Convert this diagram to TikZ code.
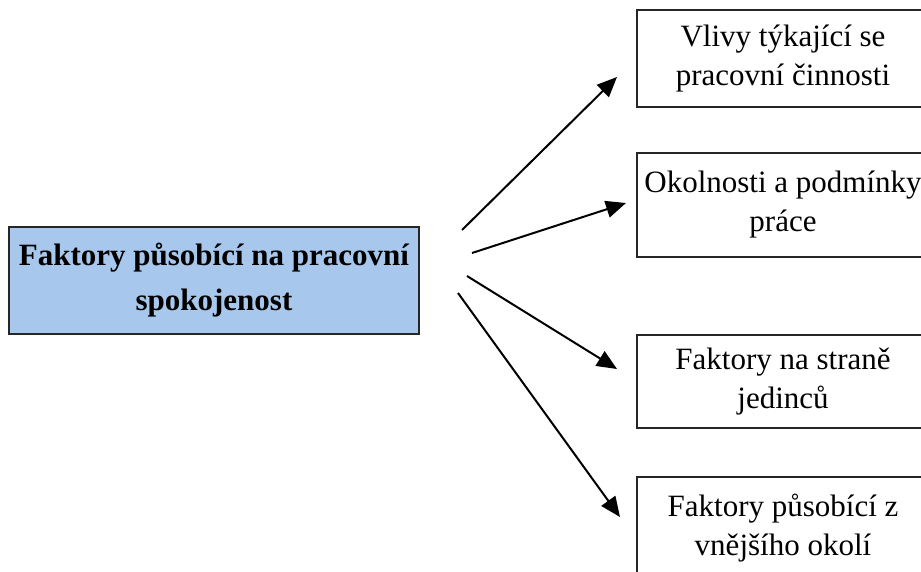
\documentclass[tikz,border=0pt]{standalone}
\usepackage{fontspec}
\setmainfont{Liberation Serif}
\usetikzlibrary{arrows.meta}
\definecolor{boxblue}{RGB}{167,200,236}
\begin{document}
\begin{tikzpicture}[x=1pt,y=-1pt,
  mainbox/.style={draw=black!85, line width=1.6pt, fill=boxblue, inner sep=0pt,
    minimum width=410pt, minimum height=107pt, align=center,
    font=\fontsize{31}{45}\selectfont\bfseries},
  sidebox/.style={draw=black!85, line width=1.6pt, fill=white, inner sep=0pt,
    minimum width=292pt, align=center,
    font=\fontsize{31}{39}\selectfont},
  arr/.style={line width=2pt, -{Triangle[length=20pt,width=17pt]}}]
\useasboundingbox (0,0) rectangle (921,571);
\fill[white] (0,0) rectangle (921,571);
\clip (0,0) rectangle (921,571);

\node[mainbox] (main) at (214,280.5) {Faktory působící na pracovní\\spokojenost};

\node[sidebox, minimum height=97pt] (b1) at (783,58.5) {Vlivy týkající se\\pracovní činnosti};
\node[sidebox, minimum height=104pt] (b2) at (783,205) {Okolnosti a podmínky\\práce};
\node[sidebox, minimum height=93pt] (b3) at (783,381.5) {Faktory na straně\\jedinců};
\node[sidebox, minimum height=102pt] (b4) at (783,528) {Faktory působící z\\vnějšího okolí};

\coordinate (s1) at (462,230);
\coordinate (e1) at (617,77);
\coordinate (s2) at (472,253);
\coordinate (e2) at (626,203);
\coordinate (s3) at (467,276);
\coordinate (e3) at (617,369);
\coordinate (s4) at (458,293);
\coordinate (e4) at (620,517);

\draw[arr] (s1) -- (e1);
\draw[arr] (s2) -- (e2);
\draw[arr] (s3) -- (e3);
\draw[arr] (s4) -- (e4);
\end{tikzpicture}
\end{document}
